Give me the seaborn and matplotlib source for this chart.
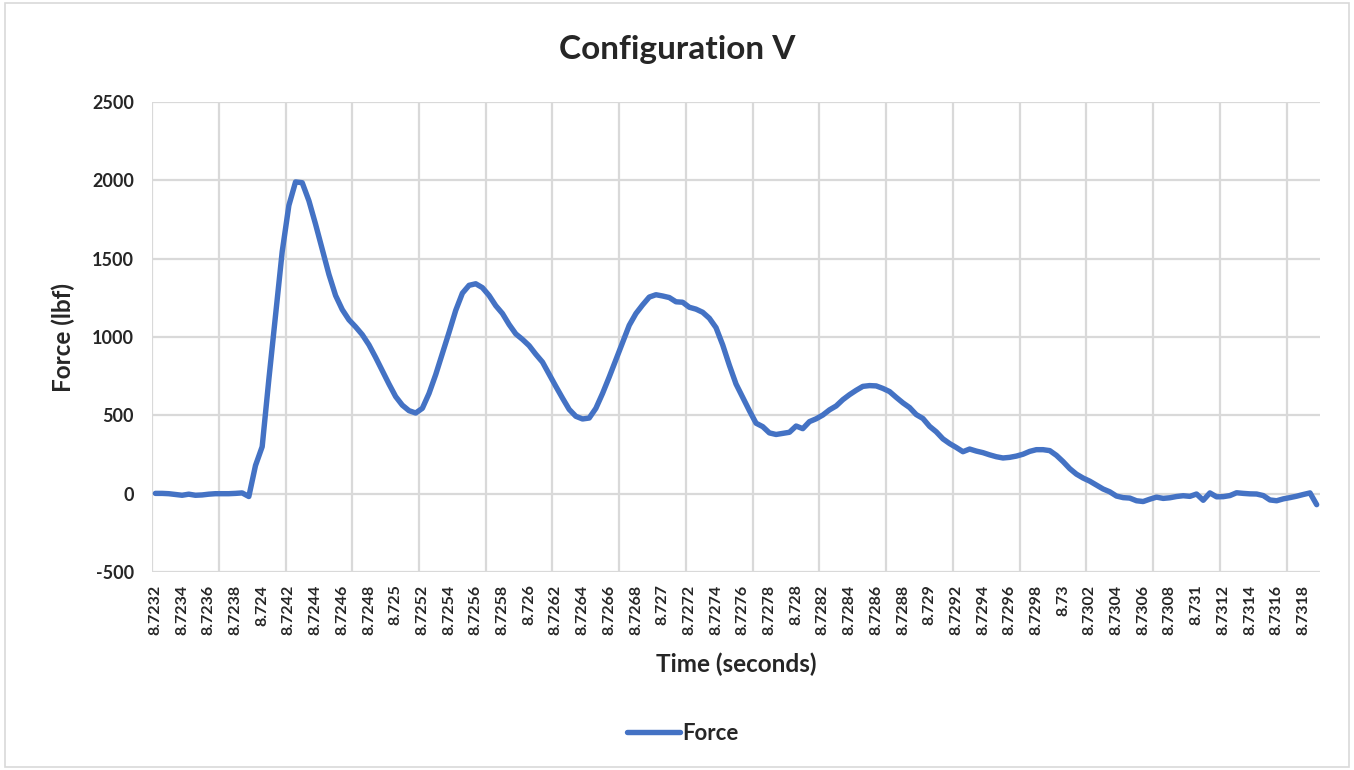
import numpy as np
import pandas as pd
import matplotlib
matplotlib.use("Agg")
import matplotlib.pyplot as plt
from matplotlib.patches import Rectangle
import seaborn as sns

# sampled force trace, one sample every 0.00005 s starting at 8.7232 s
t_start = 8.7232
t_step = 0.00005
force = [
    2, 2, 0, -5, -10, -3, -10, -8, -3, 0,
    0, 0, 2, 5, -18, 180, 300, 730, 1140, 1545,
    1840, 1990, 1985, 1870, 1720, 1560, 1400, 1265, 1175, 1110,
    1065, 1015, 950, 870, 785, 700, 620, 565, 530, 515,
    545, 640, 760, 895, 1030, 1170, 1280, 1330, 1340, 1315,
    1265, 1200, 1150, 1080, 1020, 985, 945, 890, 840, 762,
    685, 610, 538, 494, 477, 483, 545, 640, 745, 855,
    965, 1075, 1150, 1205, 1255, 1270, 1262, 1252, 1225, 1222,
    1190, 1178, 1158, 1120, 1060, 950, 820, 700, 615, 530,
    450, 428, 388, 378, 385, 392, 432, 415, 460, 478,
    502, 535, 560, 600, 632, 660, 685, 690, 688, 672,
    652, 615, 580, 550, 505, 480, 430, 395, 350, 320,
    295, 268, 285, 272, 262, 248, 236, 228, 232, 240,
    252, 270, 281, 281, 275, 245, 205, 160, 125, 100,
    80, 55, 30, 12, -15, -25, -28, -45, -50, -35,
    -22, -30, -26, -18, -13, -17, -2, -42, 5, -20,
    -19, -12, 6, 2, -1, -2, -12, -40, -45, -33,
    -25, -16, -5, 5, -70,
]
time = np.round(t_start + t_step * np.arange(len(force)), 5)

tick_labels = [
    "8.7232", "8.7234", "8.7236", "8.7238", "8.724", "8.7242", "8.7244", "8.7246",
    "8.7248", "8.725", "8.7252", "8.7254", "8.7256", "8.7258", "8.726", "8.7262",
    "8.7264", "8.7266", "8.7268", "8.727", "8.7272", "8.7274", "8.7276", "8.7278",
    "8.728", "8.7282", "8.7284", "8.7286", "8.7288", "8.729", "8.7292", "8.7294",
    "8.7296", "8.7298", "8.73", "8.7302", "8.7304", "8.7306", "8.7308", "8.731",
    "8.7312", "8.7314", "8.7316", "8.7318",
]
y_ticks = [-500, 0, 500, 1000, 1500, 2000, 2500]

df = pd.DataFrame({"Time (seconds)": time, "Force": force})

sns.set_theme(style="white")
plt.rcParams["font.family"] = ["Lato", "DejaVu Sans"]
plt.rcParams["font.weight"] = "bold"

fig = plt.figure(figsize=(13.54, 7.7), dpi=100)
ax = fig.add_axes([0.1123, 0.2571, 0.8626, 0.6104])

sns.lineplot(data=df, x="Time (seconds)", y="Force", ax=ax, color="#4472C4",
             linewidth=3.9, label="Force", legend=False)

half = t_step / 2
ax.set_xlim(time[0] - half, time[-1] + half)
ax.set_ylim(-500, 2500)

# labels every 4 samples, gridlines every 10 samples (category boundaries)
ax.set_xticks([float(x) for x in tick_labels])
ax.set_xticklabels(tick_labels, rotation=90, fontsize=11.5, fontweight="bold")
ax.set_xticks(time[0] - half + t_step * 10 * np.arange(18), minor=True)
ax.set_yticks(y_ticks)
ax.set_yticklabels([str(v) for v in y_ticks], fontsize=13, fontweight="bold")
ax.tick_params(axis="both", which="both", length=0)
ax.tick_params(axis="x", pad=9)
ax.tick_params(axis="y", pad=13)

ax.grid(False)
ax.grid(True, axis="y", which="major", color="#d9d9d9", linewidth=1.6)
ax.grid(True, axis="x", which="minor", color="#d9d9d9", linewidth=1.6)
for s in ax.spines.values():
    s.set_visible(False)

ax.set_xlabel("Time (seconds)", fontsize=17.5, fontweight="bold", labelpad=13)
ax.set_ylabel("Force (lbf)", fontsize=17.5, fontweight="bold", labelpad=12)
fig.suptitle("Configuration V", x=0.5, y=0.955, fontsize=24, fontweight="bold")

handles, labels = ax.get_legend_handles_labels()
fig.legend(handles, labels, loc="center", bbox_to_anchor=(0.5045, 0.048), frameon=False,
           prop={"size": 16, "weight": "bold"}, handlelength=2.4, handletextpad=0.1)

fig.patches.append(Rectangle((0.004, 0.004), 0.992, 0.992, transform=fig.transFigure,
                             fill=False, edgecolor="#d9d9d9", linewidth=1.2))

fig.savefig("out.png", dpi=100)
